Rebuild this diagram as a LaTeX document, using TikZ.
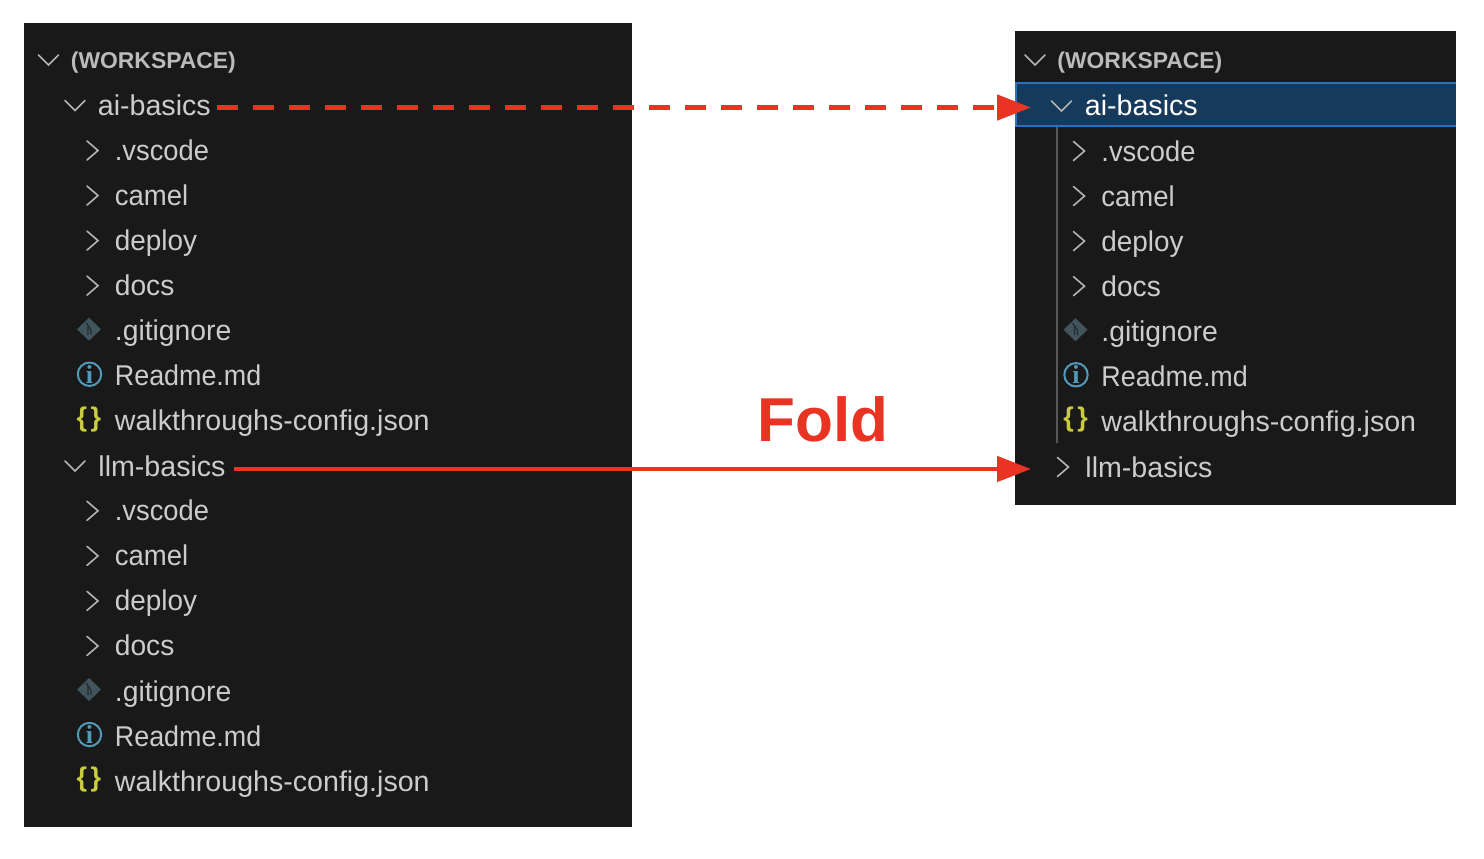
\documentclass[tikz,border=0pt]{standalone}
\usepackage{graphicx}
\usepackage{fontspec}
\setmainfont{Liberation Sans}
\newfontfamily\iserif{Liberation Serif}
\usetikzlibrary{arrows.meta}
\definecolor{panelbg}{HTML}{191919}
\definecolor{rowtxt}{HTML}{CCCCCC}
\definecolor{headtxt}{HTML}{BBBBBB}
\definecolor{chevcol}{HTML}{B4B4B4}
\definecolor{selbg}{HTML}{153A5C}
\definecolor{selborder}{HTML}{2A72C0}
\definecolor{guidecol}{HTML}{585858}
\definecolor{gitcol}{HTML}{41535B}
\definecolor{gitmark}{HTML}{232B30}
\definecolor{infocol}{HTML}{519ABA}
\definecolor{jsoncol}{HTML}{CBCB41}
\definecolor{arrowred}{HTML}{E93323}
\tikzset{
  x=0.5pt,y=-0.5pt,
  panel/.style={fill=panelbg,draw=none},
  rowlabel/.style={anchor=base west,inner sep=0pt,text=rowtxt,font=\fontsize{14.3}{16}\selectfont},
  headlabel/.style={anchor=base west,inner sep=0pt,text=headtxt,font=\fontsize{11.45}{14}\selectfont\bfseries},
  chev/.style={draw=chevcol,line width=0.8pt,line cap=round,line join=miter},
  foldarrow/.style={draw=arrowred,line width=2.4pt,-{Triangle[length=17pt,width=12.5pt,fill=arrowred]}},
  foldlabel/.style={inner sep=0pt,anchor=base west,text=arrowred,font=\fontsize{31}{36}\selectfont\bfseries},
  bracelabel/.style={inner sep=0pt,text=jsoncol,font=\fontsize{13.5}{15}\selectfont\bfseries},
  infolabel/.style={inner sep=0pt,text=infocol,font=\fontsize{13}{14}\selectfont\bfseries\iserif},
}
% chevrons: x y of the centre
\newcommand{\chevright}[2]{\draw[chev] (#1-5.5,#2-9.5) -- (#1+5.5,#2) -- (#1-5.5,#2+9.5);}
\newcommand{\chevdown}[2]{\draw[chev] (#1-10,#2-5) -- (#1,#2+5) -- (#1+10,#2-5);}
% file set: prefix, x offset, first row y
\newcommand{\fileset}[3]{%
  \begin{scope}[xshift=#2*0.5pt]
  \foreach \nm/\tx/\k/\sc in {vs/.vscode/0/0.955,ca/camel/1/0.962,de/deploy/2/0.976,dc/docs/3/0.985}{
    \pgfmathsetmacro{\yy}{#3+45.05*\k}
    \chevright{92.5}{\yy}
    \node[rowlabel] (#1\nm) at (114.5,\yy+10) {\scalebox{\sc}[1]{\tx}};
  }
  \pgfmathsetmacro{\yy}{#3+45.05*4}
  \fill[gitcol] (89,\yy-13) -- (101,\yy-1.5) -- (89,\yy+10) -- (77,\yy-1.5) -- cycle;
  \draw[gitmark,line width=0.6pt] (86,\yy-8) -- (91,\yy-1) -- (91,\yy+4) (88,\yy-5) -- (88,\yy+4);
  \node[rowlabel] (#1gi) at (114.5,\yy+10) {\scalebox{0.99}[1]{.gitignore}};
  \pgfmathsetmacro{\yy}{#3+45.05*5}
  \draw[infocol,line width=1pt] (89.5,\yy-1.5) circle[radius=11.7];
  \node[infolabel] (#1ii) at (89.5,\yy-1.5) {i};
  \node[rowlabel] (#1re) at (114.5,\yy+10) {\scalebox{0.94}[1]{Readme.md}};
  \pgfmathsetmacro{\yy}{#3+45.05*6}
  \node[bracelabel] (#1bl) at (82,\yy-1.5) {\{};
  \node[bracelabel] (#1br) at (96,\yy-1.5) {\}};
  \node[rowlabel] (#1wa) at (114.5,\yy+10) {walkthroughs-config.json};
  \end{scope}
}
\begin{document}
\begin{tikzpicture}
\useasboundingbox (0,0) rectangle (1484,858);
\fill[white] (0,0) rectangle (1484,858);
% left panel
\fill[panel] (24,23) rectangle (632,827);
\chevdown{48.5}{60}
\node[headlabel] (lhead) at (70.5,68.5) {(WORKSPACE)};
\chevdown{75}{105.5}
\node[rowlabel] (lai) at (97.5,115.5) {ai-basics};
\fileset{la}{0}{150.5}
\chevdown{75}{466}
\node[rowlabel] (lll) at (98,476) {llm-basics};
\fileset{lb}{0}{510.8}
% right panel
\fill[panel] (1015,31) rectangle (1456,505);
\chevdown{1035}{60}
\node[headlabel] (rhead) at (1057,68.5) {(WORKSPACE)};
\fill[selbg] (1015,83) rectangle (1456,126);
\draw[selborder,line width=1pt] (1456,83) -- (1016,83) -- (1016,126) -- (1456,126);
\chevdown{1061.5}{106}
\node[rowlabel,text=white] (rai) at (1084.5,115.5) {ai-basics};
\draw[guidecol,line width=1pt] (1057,127) -- (1057,443);
\fileset{ra}{986.5}{151}
\chevright{1063}{467}
\node[rowlabel] (rll) at (1085,477) {llm-basics};
% fold label and arrows
\node[foldlabel] (fold) at (757,441) {Fold};
\coordinate (tipA) at (1031,107.5);
\coordinate (tipB) at (1031,469);
\draw[foldarrow,dash pattern=on 10.5pt off 7.5pt] ([xshift=3pt]lai.east |- tipA) -- (tipA);
\draw[foldarrow] ([xshift=4pt]lll.east |- tipB) -- (tipB);
\end{tikzpicture}
\end{document}
